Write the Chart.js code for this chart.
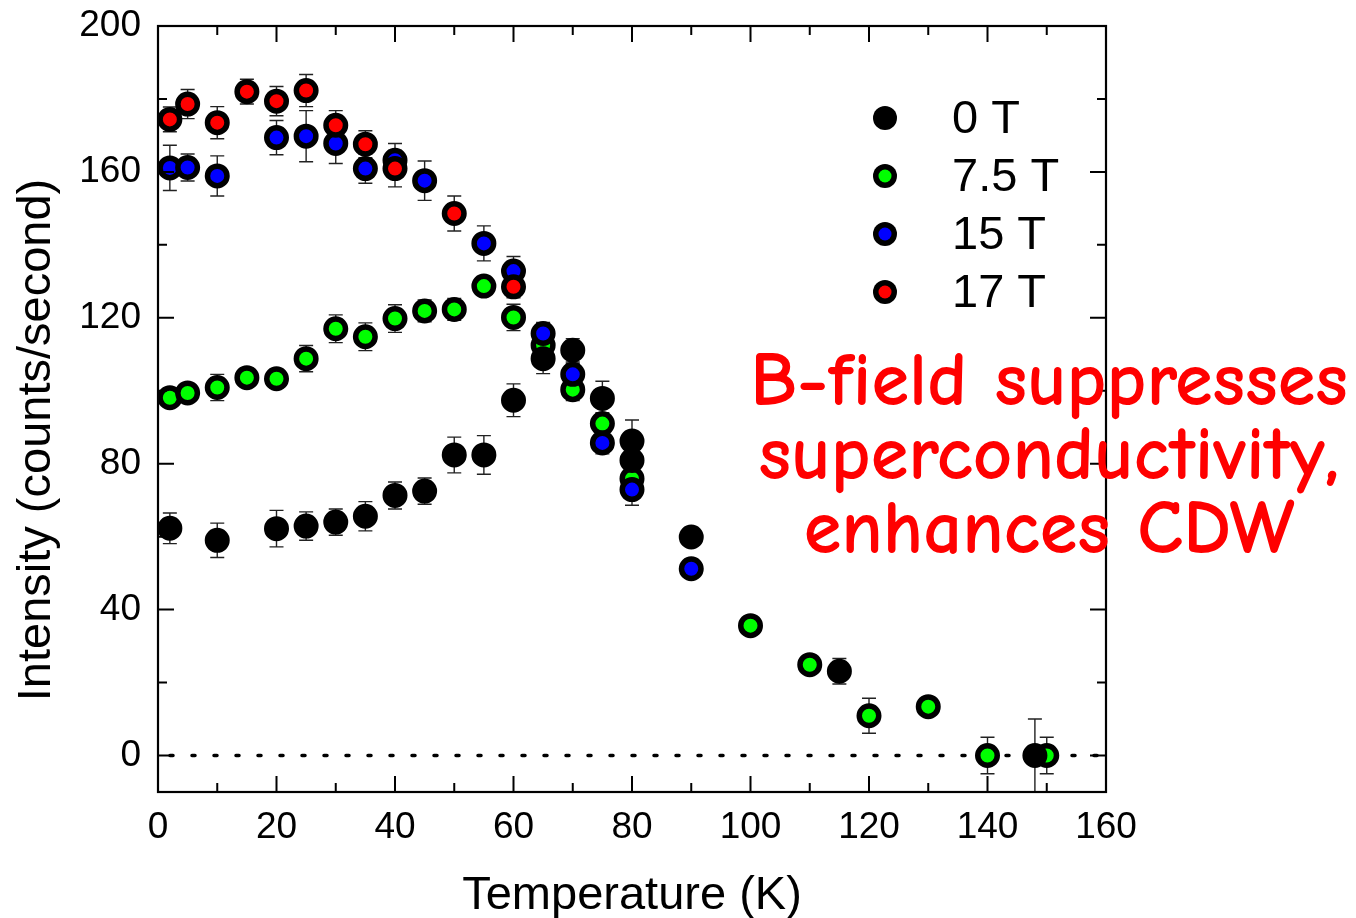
<!DOCTYPE html>
<html>
<head>
<meta charset="utf-8">
<script src="https://cdn.jsdelivr.net/npm/chart.js@4.4.1/dist/chart.umd.min.js"></script>
<style>
  html, body { margin: 0; padding: 0; background: #fff; }
  #wrap { width: 1356px; height: 918px; }
</style>
</head>
<body>
<div id="wrap"><canvas id="chart" width="1356" height="918"></canvas></div>
<script>
// axis ticks
const xTicks = [0, 20, 40, 60, 80, 100, 120, 140, 160];
const yTicks = [0, 40, 80, 120, 160, 200];

// 0 T
const t0 = [2, 10, 20, 25, 30, 35, 40, 45, 50, 55, 60, 65, 70, 75, 80, 80, 90, 115, 148];
const i0 = [62.3, 59, 62.2, 62.9, 64, 65.6, 71.3, 72.5, 82.4, 82.4, 97.4, 108.8, 111.1, 97.9, 86.2, 80.9, 59.9, 23.1, 0];
const e0 = [4.2, 4.7, 5, 3.9, 3.6, 4, 3.7, 3.6, 4.9, 5.3, 4.5, 4.1, 3.2, 4.7, 5.8, 3, 2, 3.5, 10];

// 7.5 T
const t75 = [2, 5, 10, 15, 20, 25, 30, 35, 40, 45, 50, 55, 60, 65, 70, 75, 80, 100, 110, 120, 130, 140, 150];
const i75 = [98.1, 99.4, 100.9, 103.6, 103.3, 108.8, 117, 114.8, 119.8, 121.9, 122.3, 128.7, 120.1, 112.5, 100.3, 91, 75.9, 35.6, 24.9, 10.9, 13.4, 0, 0];
const e75 = [2.5, 2.5, 3.6, 2.5, 2.5, 3.6, 3.8, 3.8, 3.8, 3, 3, 2.5, 3.6, 3, 3, 3, 3, 2, 2, 4.8, 2, 5, 5];

// 15 T
const t15 = [2, 5, 10, 20, 25, 30, 35, 40, 45, 55, 60, 65, 70, 75, 80, 90];
const i15 = [161.1, 161.2, 158.9, 169.4, 169.8, 167.8, 160.9, 163.2, 157.6, 140.4, 132.8, 115.7, 104.5, 85.7, 72.9, 51.2];
const e15 = [6.2, 3.7, 5.5, 4.7, 7, 5.5, 4, 4.6, 5.4, 4.8, 4, 3, 3, 3, 4.3, 2.5];

// 17 T
const t17 = [2, 5, 10, 15, 20, 25, 30, 35, 40, 50, 60];
const i17 = [174.4, 178.6, 173.5, 182, 179.4, 182.3, 172.8, 167.6, 160.9, 148.6, 128.5];
const e17 = [3.4, 4, 4.4, 3.4, 4, 4.4, 4, 3.7, 5, 4.8, 3];

const labels = ['0 T', '7.5 T', '15 T', '17 T'];
const colors = ['#000000', '#00ff00', '#0000ff', '#ff0000'];
const noteLines = ['B-field suppresses', 'superconductivity,', 'enhances CDW'];

const toPts = (xs, ys) => xs.map((x, i) => ({ x: x, y: ys[i] }));
const errs = [e0, e75, e15, e17];

function makeSet(k, xs, ys, order) {
  return {
    label: labels[k],
    data: toPts(xs, ys),
    backgroundColor: colors[k],
    borderColor: '#000',
    pointRadius: 9.75,
    pointBorderWidth: 5.5,
    order: order,
    clip: false
  };
}

const datasets = [
  makeSet(0, t0, i0, 2),
  makeSet(1, t75, i75, 3),
  makeSet(2, t15, i15, 1),
  makeSet(3, t17, i17, 0)
];

const sans = '"Liberation Sans", Arial, sans-serif';

// error bars, dotted zero line
const underPlugin = {
  id: 'under',
  beforeDatasetsDraw(chart) {
    const { ctx, chartArea: a, scales: { x, y } } = chart;
    ctx.save();
    // dotted line at 0
    ctx.strokeStyle = '#000';
    ctx.lineWidth = 3.5;
    ctx.lineCap = 'round';
    ctx.setLineDash([3, 19]);
    const y0 = y.getPixelForValue(0);
    ctx.beginPath();
    ctx.moveTo(a.left + 12, y0);
    ctx.lineTo(a.right, y0);
    ctx.stroke();
    ctx.setLineDash([]);
    ctx.lineCap = 'butt';

    ctx.strokeStyle = '#222';
    ctx.lineWidth = 1.4;
    chart.data.datasets.forEach((ds, k) => {
      ds.data.forEach((p, i) => {
        const e = errs[k][i];
        const px = x.getPixelForValue(p.x);
        const yt = y.getPixelForValue(p.y + e);
        const yb = Math.min(y.getPixelForValue(p.y - e), a.bottom);
        ctx.beginPath();
        ctx.moveTo(px, yt); ctx.lineTo(px, yb);
        ctx.moveTo(px - 7, yt); ctx.lineTo(px + 7, yt);
        if (yb < a.bottom) { ctx.moveTo(px - 7, yb); ctx.lineTo(px + 7, yb); }
        ctx.stroke();
      });
    });
    ctx.restore();
  }
};

// frame, ticks, titles, legend, note
const overPlugin = {
  id: 'over',
  afterDatasetsDraw(chart) {
    const { ctx, chartArea: a, scales: { x, y } } = chart;
    ctx.save();
    ctx.strokeStyle = '#000';
    ctx.lineWidth = 2.2;
    ctx.strokeRect(a.left, a.top, a.right - a.left, a.bottom - a.top);

    ctx.lineWidth = 2;
    ctx.beginPath();
    xTicks.forEach((v, i) => {
      const px = x.getPixelForValue(v);
      ctx.moveTo(px, a.bottom); ctx.lineTo(px, a.bottom - 16);
      ctx.moveTo(px, a.top); ctx.lineTo(px, a.top + 16);
      if (i < xTicks.length - 1) {
        const pm = x.getPixelForValue((v + xTicks[i + 1]) / 2);
        ctx.moveTo(pm, a.bottom); ctx.lineTo(pm, a.bottom - 9);
        ctx.moveTo(pm, a.top); ctx.lineTo(pm, a.top + 9);
      }
    });
    yTicks.forEach((v, i) => {
      const py = y.getPixelForValue(v);
      ctx.moveTo(a.left, py); ctx.lineTo(a.left + 16, py);
      ctx.moveTo(a.right, py); ctx.lineTo(a.right - 16, py);
      if (i < yTicks.length - 1) {
        const pm = y.getPixelForValue((v + yTicks[i + 1]) / 2);
        ctx.moveTo(a.left, pm); ctx.lineTo(a.left + 9, pm);
        ctx.moveTo(a.right, pm); ctx.lineTo(a.right - 9, pm);
      }
    });
    ctx.stroke();

    // axis titles
    ctx.fillStyle = '#000';
    ctx.font = '47px ' + sans;
    ctx.textAlign = 'center';
    ctx.textBaseline = 'alphabetic';
    ctx.fillText('Temperature (K)', (a.left + a.right) / 2, 909);
    ctx.save();
    ctx.translate(50, 440);
    ctx.rotate(-Math.PI / 2);
    ctx.fillText('Intensity (counts/second)', 0, 0);
    ctx.restore();

    // legend
    ctx.font = '47px ' + sans;
    ctx.textAlign = 'left';
    ctx.textBaseline = 'middle';
    labels.forEach((lab, k) => {
      const ly = a.top + 92 + k * 58;
      const lx = a.left + 727;
      ctx.beginPath();
      ctx.arc(lx, ly, 12, 0, Math.PI * 2);
      ctx.fillStyle = '#000';
      ctx.fill();
      if (k > 0) {
        ctx.beginPath();
        ctx.arc(lx, ly, 6.5, 0, Math.PI * 2);
        ctx.fillStyle = colors[k];
        ctx.fill();
      }
      ctx.fillStyle = '#000';
      ctx.fillText(lab, lx + 67, ly + 2);
    });

    // note
    const family = '"Comic Sans MS", "Comic Neue", "Noto Sans", sans-serif';
    ctx.font = 'bold 70px ' + family;
    const w = ctx.measureText(noteLines[0]).width;
    const size = 70 * 598 / w;
    ctx.font = 'bold ' + size.toFixed(1) + 'px ' + family;
    ctx.fillStyle = '#ff0000';
    ctx.textAlign = 'center';
    ctx.textBaseline = 'alphabetic';
    noteLines.forEach((s, i) => ctx.fillText(s, 1049, 405 + i * 74));
    ctx.restore();
  }
};

new Chart(document.getElementById('chart'), {
  type: 'scatter',
  data: { datasets: datasets },
  options: {
    responsive: false,
    animation: false,
    events: [],
    devicePixelRatio: 1,
    layout: { padding: { top: 26, right: 250, left: 0, bottom: 0 }, autoPadding: false },
    plugins: { legend: { display: false }, tooltip: { enabled: false } },
    scales: {
      x: {
        type: 'linear',
        min: 0, max: 160,
        afterFit: s => { s.height = 126; s.paddingLeft = 0; s.paddingRight = 0; },
        afterBuildTicks: s => { s.ticks = xTicks.map(v => ({ value: v })); },
        grid: { display: false, drawTicks: false },
        border: { display: false },
        ticks: { color: '#000', font: { family: sans, size: 37 }, padding: 14, maxRotation: 0, autoSkip: false }
      },
      y: {
        type: 'linear',
        min: -10, max: 200,
        afterFit: s => { s.width = 158; s.paddingTop = 0; s.paddingBottom = 0; },
        afterBuildTicks: s => { s.ticks = yTicks.map(v => ({ value: v })); },
        grid: { display: false, drawTicks: false },
        border: { display: false },
        ticks: { color: '#000', font: { family: sans, size: 37 }, padding: 17, autoSkip: false }
      }
    }
  },
  plugins: [underPlugin, overPlugin]
});
</script>
</body>
</html>
